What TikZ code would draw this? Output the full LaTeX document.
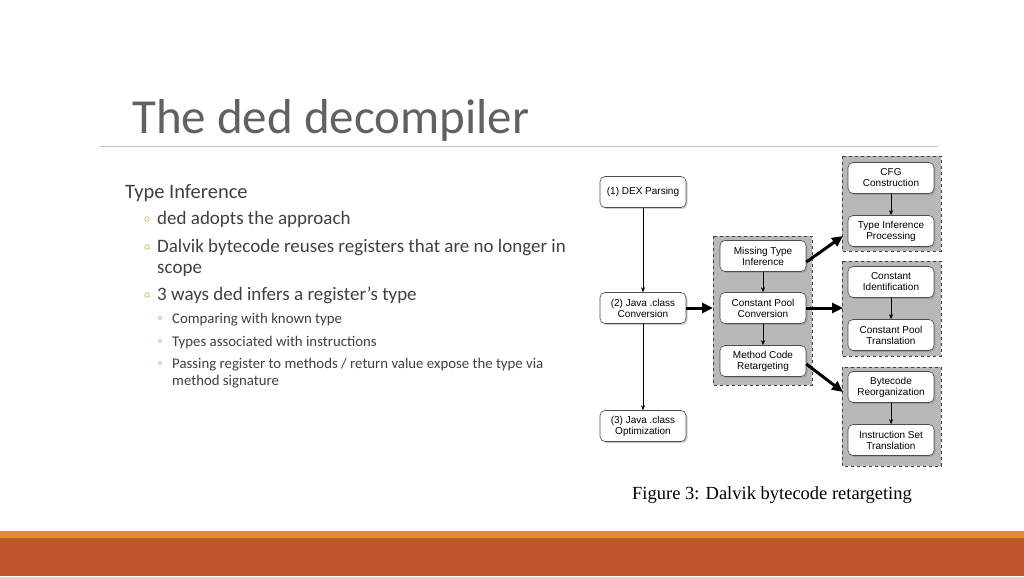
\documentclass[tikz,border=0pt]{standalone}
\usepackage{fontspec}
\setmainfont{Carlito}
\newfontfamily\diag{Liberation Sans}
\newfontfamily\capf{Liberation Serif}
\usetikzlibrary{arrows.meta,shadows,backgrounds}
\definecolor{txt}{HTML}{404040}
\definecolor{bul}{HTML}{E0A060}
\definecolor{barA}{HTML}{E38B2C}
\definecolor{barB}{HTML}{BE572B}
\tikzset{
 box/.style={draw=black!70,line width=0.6pt,rounded corners=5pt,fill=white,minimum width=86pt,minimum height=31pt,align=center,font=\diag\fontsize{10}{11}\selectfont,inner sep=1pt,drop shadow={shadow xshift=1.5pt,shadow yshift=-1.5pt,opacity=0.4}},
 grp/.style={draw=black!75,dashed,line width=0.8pt,fill=black!28},
 thin/.style={-{Stealth[length=5pt,width=4pt]},line width=0.6pt},
 thick/.style={-{Triangle[length=11pt,width=10pt]},line width=3pt},
 bt/.style={anchor=base west,font=\fontsize{19}{22}\selectfont,text=txt,inner sep=0},
 st/.style={anchor=base west,font=\fontsize{14.8}{17}\selectfont,text=txt,inner sep=0},
 bdot/.style={draw=bul,line width=0.6pt,circle,inner sep=0,minimum size=4pt},
}
\begin{document}
\begin{tikzpicture}[x=1pt,y=-1pt]
\useasboundingbox[fill=white] (0,0) rectangle (1024,576);
\fill[barA] (0,531) rectangle (1024,538);
\fill[barB] (0,538) rectangle (1024,576);
\node[anchor=base west,inner sep=0,text=black!62,font=\fontsize{49}{55}\selectfont] (title) at (132,133) {The ded decompiler};
\draw[black!25,line width=0.8pt] (100,146) -- (938,146);
\node[bt,font=\fontsize{20.5}{24}\selectfont] (h) at (125,198) {Type Inference};
\node[bdot,minimum size=4.5pt] (b1) at (147,219) {};
\node[bt] (t1) at (157,224) {ded adopts the approach};
\node[bdot,minimum size=4.5pt] (b2) at (147,247) {};
\node[bt] (t2) at (157,252) {Dalvik bytecode reuses registers that are no longer in};
\node[bt] (t2b) at (157,273) {scope};
\node[bdot,minimum size=4.5pt] (b3) at (147,295) {};
\node[bt] (t3) at (157,300) {3 ways ded infers a register’s type};
\node[bdot,minimum size=3.5pt] (c1) at (160,318) {};
\node[st] (s1) at (172,323) {Comparing with known type};
\node[bdot,minimum size=3.5pt] (c2) at (160,341) {};
\node[st] (s2) at (172,346) {Types associated with instructions};
\node[bdot,minimum size=3.5pt] (c3) at (160,363) {};
\node[st] (s3) at (172,368) {Passing register to methods / return value expose the type via};
\node[st] (s3b) at (172,385) {method signature};
% groups
\draw[grp] (713,236) rectangle (812,385);
\draw[grp] (842,156) rectangle (941,251);
\draw[grp] (842,261) rectangle (941,356);
\draw[grp] (842,367) rectangle (941,466);
\node[box] (dex) at (643,192) {(1) DEX Parsing};
\node[box] (conv) at (643,308) {(2) Java .class\\Conversion};
\node[box] (opt) at (643,426) {(3) Java .class\\Optimization};
\node[box] (mti) at (763,256) {Missing Type\\Inference};
\node[box] (cpc) at (763,308) {Constant Pool\\Conversion};
\node[box] (mcr) at (763,361) {Method Code\\Retargeting};
\node[box] (cfg) at (891,178) {CFG\\Construction};
\node[box] (tip) at (891,231) {Type Inference\\Processing};
\node[box] (ci) at (891,282) {Constant\\Identification};
\node[box] (cpt) at (891,335) {Constant Pool\\Translation};
\node[box] (br) at (891,387) {Bytecode\\Reorganization};
\node[box] (ist) at (891,440) {Instruction Set\\Translation};
\coordinate (g1) at (843,236);
\coordinate (g2) at (843,308);
\coordinate (g3) at (843,392);
\coordinate (gm) at (713,308);
\draw[thin] (dex) -- (conv);
\draw[thin] (conv) -- (opt);
\draw[thin] (mti) -- (cpc);
\draw[thin] (cpc) -- (mcr);
\draw[thin] (cfg) -- (tip);
\draw[thin] (ci) -- (cpt);
\draw[thin] (br) -- (ist);
\draw[thick] (conv.east) -- (gm);
\draw[thick] ([yshift=-6pt]mti.east) -- (g1);
\draw[thick] (cpc.east) -- (g2);
\draw[thick] ([yshift=-3pt]mcr.east) -- (g3);
\node[font=\capf\fontsize{18.5}{22}\selectfont,inner sep=0] (cap) at (772,495) {Figure 3: Dalvik bytecode retargeting};
\end{tikzpicture}
\end{document}
